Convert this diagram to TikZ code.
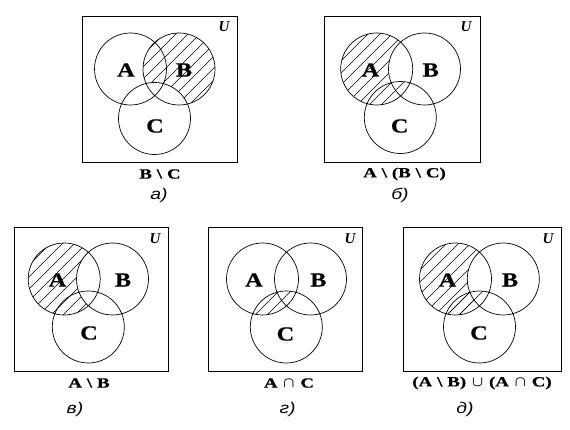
\documentclass[tikz,border=0pt]{standalone}
\usepackage{fontspec}
\setmainfont{Liberation Serif}
\newfontfamily\labserif[FakeStretch=1.22,FakeBold=0.6]{Liberation Serif}
\newfontfamily\capserif[FakeStretch=1.35,FakeBold=0.6]{Liberation Serif}
\newfontfamily\capsans[FakeStretch=1.25]{Liberation Sans}
\tikzset{
  x=1pt, y=-1pt,
  venn/.style={line width=0.7pt},
  ubox/.style={line width=0.9pt},
  hatch/.style={line width=0.6pt},
  setlab/.style={font=\labserif\fontsize{20}{20}\selectfont\bfseries, inner sep=0pt},
  ulab/.style={font=\fontsize{15}{15}\selectfont\bfseries\itshape, inner sep=0pt},
  caplab/.style={font=\capserif\fontsize{14}{14}\selectfont\bfseries\boldmath, inner sep=0pt},
  sublab/.style={font=\capsans\fontsize{15.5}{16}\selectfont\itshape, inner sep=0pt}
}
\newcommand\hatchfill{\foreach \k in {-468,-456,...,564} \draw[hatch] (\k,450) -- ++(500,-500);}
\newcommand\smn{\hspace{0.35em}\textbackslash\hspace{0.35em}}
\newcommand\gp{\hspace{0.42em}}
\begin{document}
\begin{tikzpicture}
\fill[white] (0,0) rectangle (570,430);
\useasboundingbox (0,0) rectangle (570,430);
% ---------- panel a
\coordinate (aA) at (130.5,69); \coordinate (aB) at (179,69); \coordinate (aC) at (154.5,118.5);
\begin{scope}
  \clip (aB) circle (36);
  \begin{scope}[even odd rule]
    \clip (0,0) rectangle (570,430) (aC) circle (36);
    \hatchfill
  \end{scope}
\end{scope}
\draw[ubox] (82,16) rectangle (237,162);
\draw[venn] (aA) circle (36) (aB) circle (36) (aC) circle (36);
\node[setlab] (aLA) at (126,70) {A};
\node[setlab] (aLB) at (184,70) {B};
\node[setlab] (aLC) at (155,126) {C};
\node[ulab] (aU) at (224,27) {U};
\node[caplab] (acap) at (160,174) {B\smn C};
\node[sublab] (asub) at (159,195) {а)};
% ---------- panel b
\coordinate (bA) at (376.7,69); \coordinate (bB) at (424.5,69); \coordinate (bC) at (400.3,117.5);
\begin{scope}
  \clip (bA) circle (36);
  \begin{scope}[even odd rule]
    \clip (0,0) rectangle (570,430) (bB) circle (36);
    \hatchfill
  \end{scope}
\end{scope}
\begin{scope}
  \clip (bA) circle (36);
  \clip (bB) circle (36);
  \clip (bC) circle (36);
  \hatchfill
\end{scope}
\draw[ubox] (324.7,16) rectangle (480.3,162);
\draw[venn] (bA) circle (36) (bB) circle (36) (bC) circle (36);
\node[setlab] (bLA) at (370.5,70) {A};
\node[setlab] (bLB) at (430.7,70) {B};
\node[setlab] (bLC) at (399.7,126) {C};
\node[ulab] (bU) at (466,27) {U};
\node[caplab] (bcap) at (404.5,174) {A\smn(B\smn C)};
\node[sublab] (bsub) at (400,195) {б)};
% ---------- panel v
\coordinate (vA) at (64.2,279); \coordinate (vB) at (112.5,279); \coordinate (vC) at (88.3,327);
\begin{scope}
  \clip (vA) circle (36);
  \begin{scope}[even odd rule]
    \clip (0,0) rectangle (570,430) (vB) circle (36);
    \hatchfill
  \end{scope}
\end{scope}
\draw[ubox] (14.3,227.7) rectangle (168.3,371.7);
\draw[venn] (vA) circle (36) (vB) circle (36) (vC) circle (36);
\node[setlab] (vLA) at (57.5,280) {A};
\node[setlab] (vLB) at (123,280) {B};
\node[setlab] (vLC) at (89,333) {C};
\node[ulab] (vU) at (155,239) {U};
\node[caplab] (vcap) at (89,383) {A\smn B};
\node[sublab] (vsub) at (75,409) {в)};
% ---------- panel g
\coordinate (gA) at (262.5,279); \coordinate (gB) at (310.5,279); \coordinate (gC) at (286.3,327);
\begin{scope}
  \clip (gA) circle (36);
  \clip (gC) circle (36);
  \hatchfill
\end{scope}
\draw[ubox] (208.3,227.7) rectangle (362.7,371.7);
\draw[venn] (gA) circle (36) (gB) circle (36) (gC) circle (36);
\node[setlab] (gLA) at (254,280) {A};
\node[setlab] (gLB) at (318.3,280) {B};
\node[setlab] (gLC) at (285.5,334) {C};
\node[ulab] (gU) at (350,239) {U};
\node[caplab] (gcap) at (289,383) {A\gp$\cap$\gp C};
\node[sublab] (gsub) at (287.5,409) {г)};
% ---------- panel d
\coordinate (dA) at (455.5,279); \coordinate (dB) at (503.3,279); \coordinate (dC) at (479.5,327);
\begin{scope}
  \clip (dA) circle (36);
  \begin{scope}[even odd rule]
    \clip (0,0) rectangle (570,430) (dB) circle (36);
    \hatchfill
  \end{scope}
\end{scope}
\begin{scope}
  \clip (dA) circle (36);
  \clip (dC) circle (36);
  \hatchfill
\end{scope}
\draw[ubox] (403.3,227.7) rectangle (561.7,371.7);
\draw[venn] (dA) circle (36) (dB) circle (36) (dC) circle (36);
\node[setlab] (dLA) at (447.5,280) {A};
\node[setlab] (dLB) at (510,280) {B};
\node[setlab] (dLC) at (479,333) {C};
\node[ulab] (dU) at (548,239) {U};
\node[caplab] (dcap) at (482,383) {(A\smn B)\gp$\cup$\gp(A\gp$\cap$\gp C)};
\node[sublab] (dsub) at (465,409) {д)};
\end{tikzpicture}
\end{document}
